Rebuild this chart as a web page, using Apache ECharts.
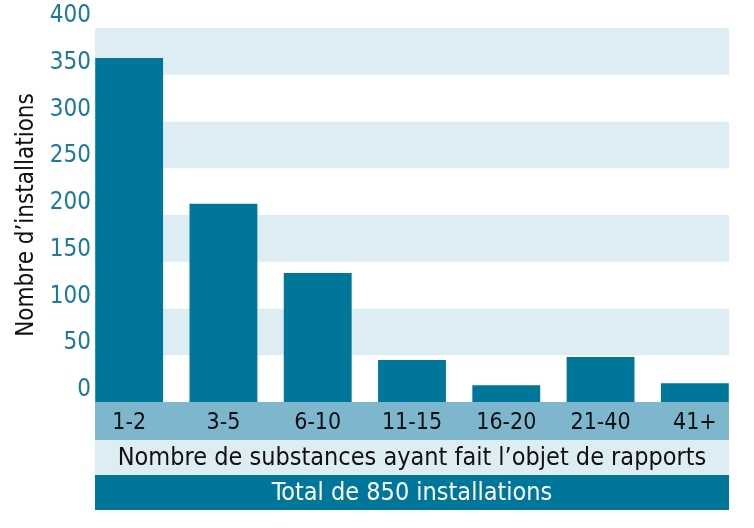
<!DOCTYPE html>
<html><head><meta charset="utf-8">
<script src="https://cdn.jsdelivr.net/npm/echarts@6/dist/echarts.min.js"></script>
<style>html,body{margin:0;padding:0;background:#fff}#c{width:754px;height:528px}</style>
</head><body><div id="c"></div>
<script>
const categories = ['1-2','3-5','6-10','11-15','16-20','21-40','41+'];
const values = [368, 212, 138, 45, 18, 48, 20];
const yTicks = [0, 50, 100, 150, 200, 250, 300, 350, 400];
const yTitle = "Nombre d\u2019installations";
const xTitle = "Nombre de substances ayant fait l\u2019objet de rapports";
const totalText = "Total de 850 installations";
const font = "'Liberation Sans Narrow','DejaVu Sans Condensed','Roboto Condensed',sans-serif";
const chart = echarts.init(document.getElementById('c'));
chart.setOption({
  animation: false,
  textStyle: {fontFamily: font},
  grid: [{left: 95, right: 25, top: 28, bottom: 126}, {left: 82, right: 12, top: 28, bottom: 126}],
  graphic: [
    {type:'rect', shape:{x:95,y:402,width:634,height:38}, style:{fill:'#7db6cd'}, z:-1},
    {type:'rect', shape:{x:95,y:440,width:634,height:35}, style:{fill:'#deedf3'}, z:-1},
    {type:'rect', shape:{x:95,y:475,width:634,height:35}, style:{fill:'#00779a'}, z:-1},
    {type:'text', x:412, y:458, style:{text:xTitle, font:'25px '+font, fill:'#111', align:'center', verticalAlign:'middle'}},
    {type:'text', x:412, y:493, style:{text:totalText, font:'25px '+font, fill:'#fff', align:'center', verticalAlign:'middle'}}
  ],
  xAxis: [
    {type:'category', gridIndex:0, data: categories, show:false},
    {type:'category', gridIndex:1, data: categories,
     axisLine:{show:false}, axisTick:{show:false},
     axisLabel:{color:'#111', fontSize:23, margin:10, fontFamily:font}}],
  yAxis: [
    {type:'value', gridIndex:0, min: yTicks[0], max: yTicks[yTicks.length-1], interval: 50,
     name: yTitle, nameLocation:'middle', nameGap:56, nameRotate:90,
     nameTextStyle:{color:'#111', fontSize:24, fontFamily:font},
     axisLine:{show:false}, axisTick:{show:false},
     axisLabel:{color:'#1b7a99', fontSize:24, margin:4, verticalAlign:'bottom', fontFamily:font},
     splitLine:{show:false},
     splitArea:{show:true, areaStyle:{color:['#ffffff','#deedf3']}}},
    {type:'value', gridIndex:1, min: 0, max: 400, interval: 50, show:false, splitLine:{show:false}}],
  series: [{type:'bar', xAxisIndex:1, yAxisIndex:1, data: values, barCategoryGap:'28%', itemStyle:{color:'#00779a'}}]
});
</script></body></html>
